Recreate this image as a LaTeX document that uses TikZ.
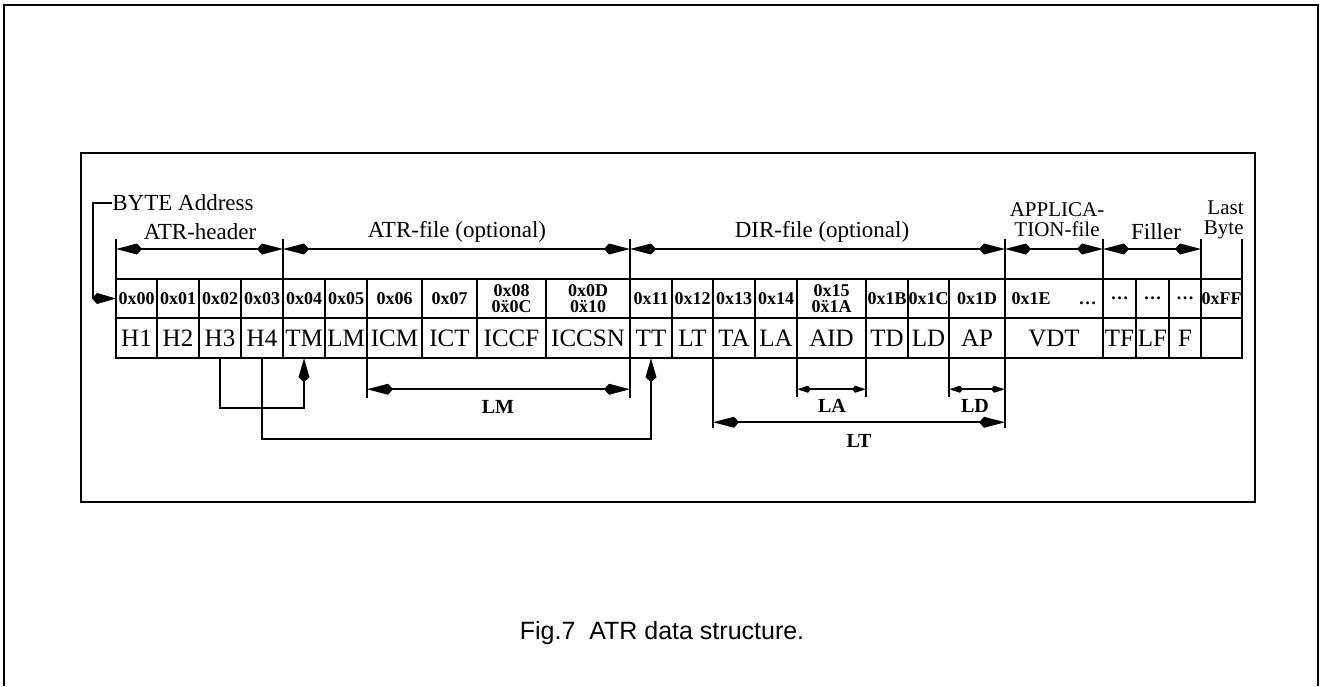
\documentclass[tikz,border=0pt]{standalone}
\usepackage{fontspec}
\setmainfont{Liberation Serif}
\setsansfont{Liberation Sans}
\usetikzlibrary{arrows.meta,calc}

\tikzset{
  cell/.style={draw, line width=0.9pt, inner sep=0pt, outer sep=0pt},
  addrcell/.style={cell, minimum height=19.5pt, align=center,
    font=\fontsize{9}{7.6}\selectfont\bfseries},
  fieldcell/.style={cell, minimum height=20pt, font=\fontsize{12.5}{14}\selectfont},
  tick/.style={line width=0.9pt},
  span/.style={line width=0.9pt,
    {Kite[length=13pt,width=5.5pt,inset=2.5pt]}-{Kite[length=13pt,width=5.5pt,inset=2.5pt]}},
  shortspan/.style={line width=0.9pt,
    {Kite[length=7pt,width=3.5pt,inset=1.5pt]}-{Kite[length=7pt,width=3.5pt,inset=1.5pt]}},
  link/.style={line width=0.9pt, -{Kite[length=12pt,width=5.5pt,inset=2.5pt]}},
  head/.style={inner sep=0pt, font=\fontsize{11.5}{9.5}\selectfont},
  headtwo/.style={inner sep=0pt, align=center, font=\fontsize{10.5}{10}\selectfont},
  dimlabel/.style={inner sep=0pt, font=\fontsize{10}{12}\selectfont\bfseries},
}

\begin{document}
\begin{tikzpicture}[x=0.5pt, y=-0.5pt]
  \useasboundingbox (0,0) rectangle (1321,686);
  % page frame and figure frame
  \draw[line width=1.2pt] (4,686) -- (4,5) -- (1318,5) -- (1318,686);
  \draw[line width=1pt] (81,153) rectangle (1255,502);

  % byte addresses
  \foreach \xa/\xb/\txt [count=\i] in {116/157/0x00, 157/199/0x01, 199/241/0x02,
      241/283/0x03, 283/325/0x04, 325/367/0x05, 367/422/0x06, 422/477/0x07,
      477/546/{0x08\\0\"x0C}, 546/630/{0x0D\\0\"x10}, 630/672/0x11, 672/713/0x12,
      713/755/0x13, 755/797/0x14, 797/866/{0x15\\0\"x1A}, 866/908/0x1B,
      908/949/0x1C, 949/1005/0x1D, 1005/1103/{0x1E\hspace{14pt}\ldots},
      1103/1136/\ldots, 1136/1169/\ldots, 1169/1201/\ldots, 1201/1242/0xFF}
    \node[addrcell, minimum width={(\xb-\xa)*0.5pt}] (adr\i) at ({(\xa+\xb)/2},298.5) {\txt};

  % fields
  \foreach \xa/\xb/\txt/\nm in {116/157/H1/h1, 157/199/H2/h2, 199/241/H3/h3,
      241/283/H4/h4, 283/325/TM/tm, 325/367/LM/lm, 367/422/ICM/icm,
      422/477/ICT/ict, 477/546/ICCF/iccf, 546/630/ICCSN/iccsn, 630/672/TT/tt,
      672/713/LT/lt, 713/755/TA/ta, 755/797/LA/la, 797/866/AID/aid,
      866/908/TD/td, 908/949/LD/ld, 949/1005/AP/ap, 1005/1103/VDT/vdt,
      1103/1136/TF/tf, 1136/1169/LF/lf, 1169/1201/F/f, 1201/1242/{}/last}
    \node[fieldcell, minimum width={(\xb-\xa)*0.5pt}] (\nm) at ({(\xa+\xb)/2},338.25) {\txt};

  % section boundaries
  \foreach \x [count=\i from 0] in {116,283,630,1005,1103,1201,1242} {
    \coordinate (b\i) at (\x,249);
    \draw[tick] (\x,239) -- (\x,279);
  }
  \draw[span] (b0) -- (b1);
  \draw[span] (b1) -- (b2);
  \draw[span] (b2) -- (b3);
  \draw[span] (b3) -- (b4);
  \draw[span] (b4) -- (b5);

  \node[head] (hdr) at (200,232) {ATR-header};
  \node[head] (atrfile) at (457,232) {ATR-file (optional)};
  \node[head] (dirfile) at (822,232) {DIR-file (optional)};
  \node[headtwo] (appfile) at (1057,220) {APPLICA-\\TION-file};
  \node[head] (filler) at (1156,232) {Filler};
  \node[headtwo, align=right, anchor=east] (lastbyte) at (1244,220) {Last\\Byte};

  \node[head, anchor=west] (byteaddr) at (112,203) {BYTE Address};
  \draw[link] (byteaddr.west) -- ++(-19,0) |- (adr1.west);

  % pointers
  \draw[link] (h3.south) -- ++(0,50) -| (tm.south);
  \draw[link] (h4.south) -- ++(0,81) -| (tt.south);

  % lengths
  \draw[tick] (icm.south west) -- ++(0,40);
  \draw[tick] (iccsn.south east) -- ++(0,40);
  \draw[span] ($(icm.south west)+(0,31)$) -- ($(iccsn.south east)+(0,31)$);
  \node[dimlabel] (lmlen) at (498,407) {LM};

  \draw[tick] (aid.south west) -- ++(0,39);
  \draw[tick] (aid.south east) -- ++(0,39);
  \draw[shortspan] ($(aid.south west)+(0,31)$) -- ($(aid.south east)+(0,31)$);
  \node[dimlabel] (lalen) at (832,406) {LA};

  \draw[tick] (ap.south west) -- ++(0,39);
  \draw[shortspan] ($(ap.south west)+(0,31)$) -- ($(ap.south east)+(0,31)$);
  \node[dimlabel] (ldlen) at (975,406) {LD};

  \draw[tick] (ta.south west) -- ++(0,70);
  \draw[tick] (ap.south east) -- ++(0,70);
  \draw[span] ($(ta.south west)+(0,64)$) -- ($(ap.south east)+(0,64)$);
  \node[dimlabel] (ltlen) at (859,441) {LT};

  \node[font=\sffamily\fontsize{12.5}{14}\selectfont] (caption) at (662,633)
    {Fig.7\ \ ATR data structure.};
\end{tikzpicture}
\end{document}
